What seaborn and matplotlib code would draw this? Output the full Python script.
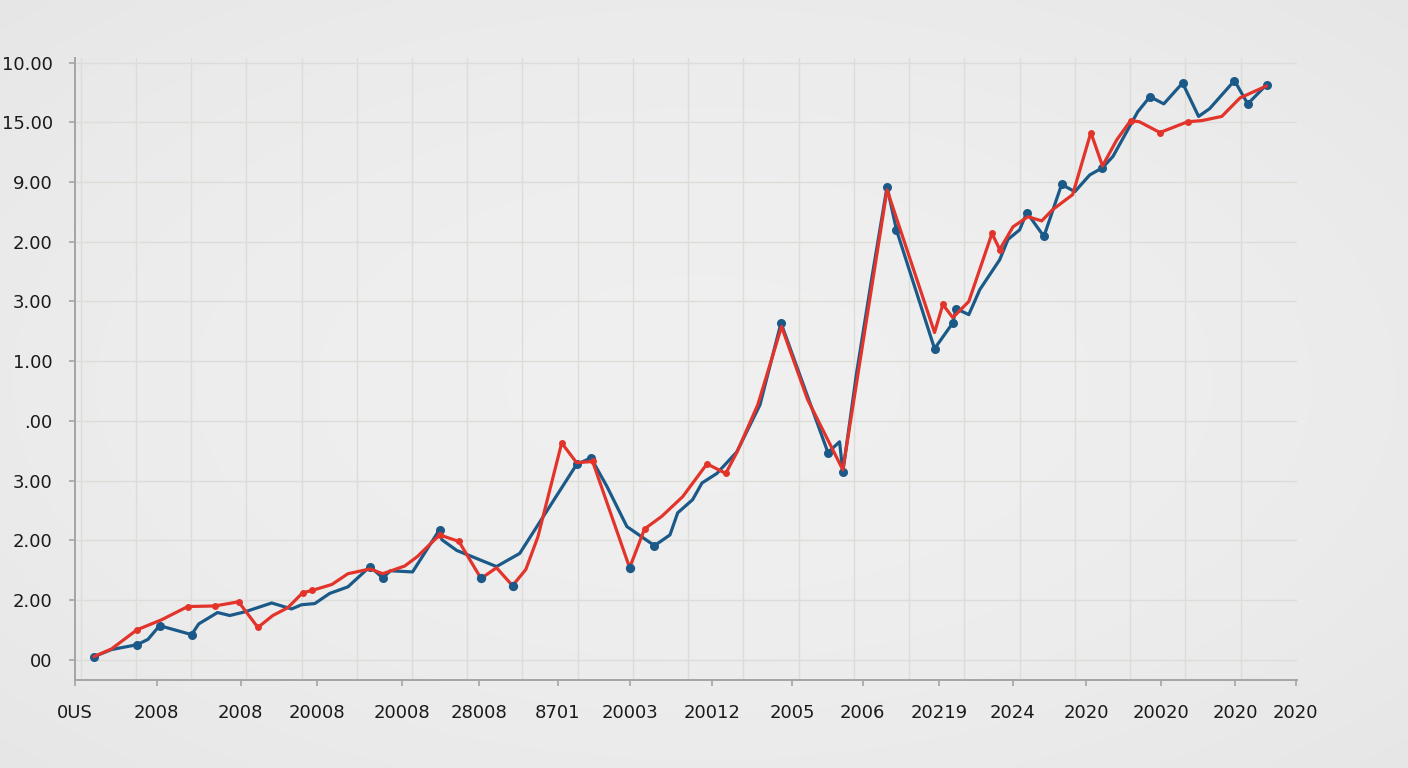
"""
Two-series line chart recreation (blue vs red trend)
"""

import numpy as np
import pandas as pd
import matplotlib
matplotlib.use('Agg')
import matplotlib.pyplot as plt
import seaborn as sns
from matplotlib.ticker import FixedLocator, MultipleLocator


# Axis labels as they appear on the chart
y_tick_values = [0, 1, 2, 3, 4, 5, 6, 7, 8, 9, 10]
y_tick_labels = ['00', '2.00', '2.00', '3.00', '.00', '1.00', '3.00',
                 '2.00', '9.00', '15.00', '10.00']
x_tick_values = [-0.1, 1.38, 2.90, 4.28, 5.82, 7.21, 8.64, 9.94, 11.43,
                 12.88, 14.16, 15.54, 16.88, 18.20, 19.56, 20.90, 22.0]
x_tick_labels = ['0US', '2008', '2008', '20008', '20008', '28008', '8701',
                 '20003', '20012', '2005', '2006', '20219', '2024', '2020',
                 '20020', '2020', '2020']

# Blue series
blue_x = [0.24, 0.56, 1.02, 1.22, 1.43, 2.01, 2.14, 2.48, 2.70, 2.97,
          3.46, 3.82, 4.00, 4.24, 4.51, 4.84, 5.24, 5.47, 5.61, 6.01,
          6.50, 6.54, 6.81, 7.53, 7.95, 8.98, 9.24, 9.53, 9.89, 10.39,
          10.67, 10.81, 11.08, 11.25, 11.52, 11.88, 12.30, 12.68, 13.53, 13.74,
          13.80, 14.05, 14.32, 14.60, 14.77, 15.46, 15.79, 15.85, 16.08, 16.28,
          16.64, 16.79, 17.00, 17.13, 17.44, 17.76, 18.00, 18.27, 18.50, 18.69,
          19.14, 19.36, 19.61, 19.95, 20.24, 20.44, 20.89, 21.13, 21.47]
blue_y = [0.05, 0.17, 0.25, 0.34, 0.57, 0.42, 0.60, 0.79, 0.74, 0.80,
          0.95, 0.85, 0.92, 0.94, 1.11, 1.22, 1.56, 1.37, 1.49, 1.47,
          2.18, 2.01, 1.83, 1.56, 1.78, 3.27, 3.38, 2.90, 2.23, 1.91,
          2.09, 2.46, 2.68, 2.96, 3.12, 3.48, 4.27, 5.64, 3.47, 3.65,
          3.15, 4.81, 6.37, 7.92, 7.20, 5.21, 5.64, 5.88, 5.78, 6.20,
          6.70, 7.04, 7.20, 7.49, 7.09, 7.96, 7.84, 8.12, 8.24, 8.43,
          9.18, 9.43, 9.31, 9.66, 9.10, 9.23, 9.70, 9.31, 9.63]
blue_marked = [0, 2, 4, 5, 16, 17, 20, 25, 26, 29, 37, 38, 40, 43, 44, 45,
               46, 47, 53, 54, 55, 58, 61, 63, 66, 67, 68]

# Red series
red_x = [0.24, 0.56, 1.02, 1.47, 1.94, 2.43, 2.86, 3.21, 3.48, 3.75,
         4.02, 4.19, 4.55, 4.84, 5.24, 5.47, 5.87, 6.10, 6.50, 6.85,
         7.25, 7.53, 7.82, 8.06, 8.28, 8.71, 8.98, 9.27, 9.94, 10.21,
         10.52, 10.90, 11.34, 11.68, 11.88, 12.26, 12.69, 13.16, 13.80, 14.60,
         15.46, 15.61, 15.79, 16.08, 16.50, 16.64, 16.88, 17.15, 17.40, 17.60,
         17.96, 18.29, 18.50, 18.76, 19.01, 19.17, 19.54, 20.04, 20.30, 20.66,
         20.99, 21.47]
red_y = [0.05, 0.18, 0.50, 0.67, 0.89, 0.90, 0.97, 0.54, 0.74, 0.87,
         1.12, 1.16, 1.26, 1.44, 1.52, 1.44, 1.57, 1.73, 2.09, 1.98,
         1.36, 1.54, 1.24, 1.51, 2.06, 3.63, 3.30, 3.32, 1.54, 2.19,
         2.40, 2.73, 3.28, 3.12, 3.47, 4.27, 5.58, 4.36, 3.18, 7.87,
         5.48, 5.95, 5.73, 6.00, 7.14, 6.87, 7.25, 7.42, 7.35, 7.54,
         7.79, 8.83, 8.27, 8.71, 9.03, 9.01, 8.83, 9.01, 9.03, 9.10,
         9.41, 9.61]
red_marked = [2, 4, 5, 6, 7, 10, 11, 18, 19, 25, 27, 29, 32, 33, 41, 44,
              45, 51, 54, 56, 57]
# points on the red line that carry a blue dot
red_blue_dots = [20, 22, 28]

BLUE = '#1b5a88'
RED = '#e3342b'
BG = '#ebebe8'

sns.set_theme(style='whitegrid')
plt.rcParams['font.family'] = ['DejaVu Sans']

fig = plt.figure(figsize=(14.08, 7.68), dpi=100, facecolor=BG)

# Soft vignette behind everything
bg_ax = fig.add_axes([0, 0, 1, 1], zorder=-10)
gx, gy = np.meshgrid(np.linspace(-1, 1, 200), np.linspace(-1, 1, 120))
shade = 0.935 - 0.035 * (gx ** 2 + gy ** 2) / 2
bg_ax.imshow(shade, cmap='gray', vmin=0, vmax=1, aspect='auto',
             extent=[0, 1, 0, 1], interpolation='bilinear')
bg_ax.axis('off')

ax = fig.add_axes([0.0533, 0.1146, 0.8678, 0.81])
ax.set_facecolor('none')

blue_df = pd.DataFrame({'x': blue_x, 'y': blue_y})
red_df = pd.DataFrame({'x': red_x, 'y': red_y})

sns.lineplot(data=blue_df, x='x', y='y', ax=ax, color=BLUE, linewidth=2.3,
             estimator=None, sort=False, marker='o', markersize=6.5,
             markeredgewidth=0, markevery=blue_marked)
sns.lineplot(data=red_df, x='x', y='y', ax=ax, color=RED, linewidth=2.3,
             estimator=None, sort=False, marker='o', markersize=5,
             markeredgewidth=0, markevery=red_marked)
dots = red_df.iloc[red_blue_dots]
sns.scatterplot(data=dots, x='x', y='y', ax=ax, color=BLUE, s=45,
                linewidth=0, zorder=5)

# Axes limits and ticks
ax.set_xlim(-0.1, 22.02)
ax.set_ylim(-0.34, 10.08)
ax.yaxis.set_major_locator(FixedLocator(y_tick_values))
ax.set_yticklabels(y_tick_labels)
ax.xaxis.set_major_locator(FixedLocator(x_tick_values))
ax.set_xticklabels(x_tick_labels)
ax.xaxis.set_minor_locator(MultipleLocator(1))

ax.set_xlabel('')
ax.set_ylabel('')

# Grid: horizontal at y ticks, vertical at the minor steps
ax.grid(False)
ax.grid(True, axis='y', which='major', color='#dcdcd9', linewidth=1)
ax.grid(True, axis='x', which='minor', color='#dcdcd9', linewidth=1)
ax.set_axisbelow(True)

for side in ['top', 'right']:
    ax.spines[side].set_visible(False)
for side in ['left', 'bottom']:
    ax.spines[side].set_visible(True)
    ax.spines[side].set_color('#a5a5a3')
    ax.spines[side].set_linewidth(1.4)

ax.tick_params(axis='both', which='major', length=4, width=1.2,
               color='#a5a5a3', labelsize=13, labelcolor='#1a1a1a')
ax.tick_params(axis='y', pad=12)
ax.tick_params(axis='x', pad=13)
ax.tick_params(axis='x', which='minor', length=0)
ax.tick_params(left=True, bottom=True)

fig.savefig('out.png', dpi=100, facecolor=BG)
plt.close(fig)
